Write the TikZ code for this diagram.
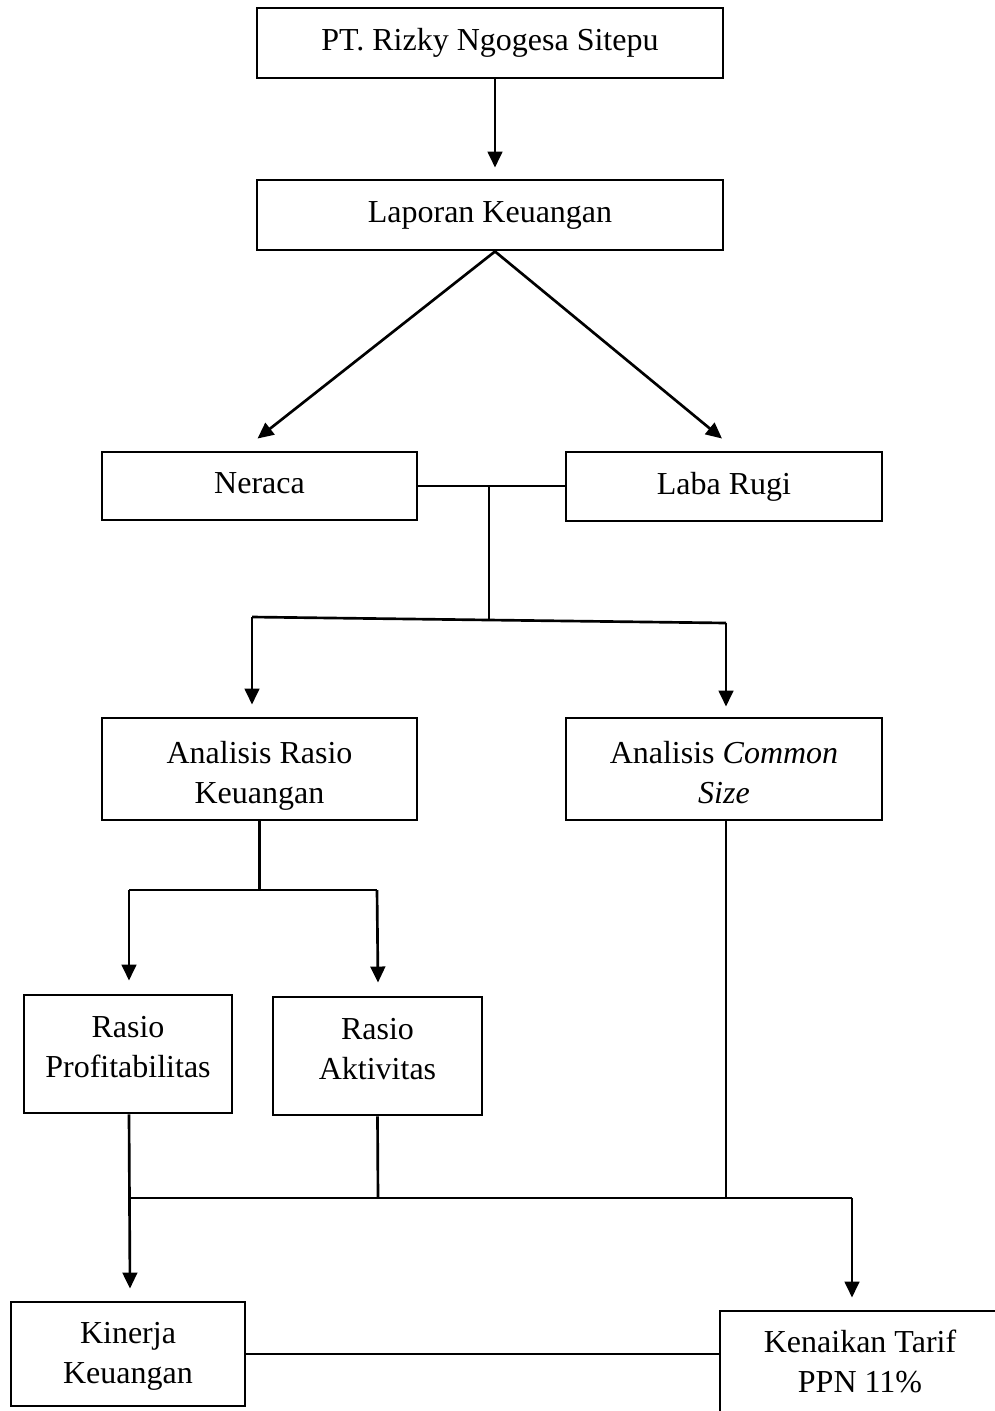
\documentclass[tikz,border=0pt]{standalone}
\usepackage{fontspec}
\setmainfont{Liberation Serif}
\usetikzlibrary{calc,arrows.meta}
\tikzset{
  box/.style={draw, line width=1.1pt, inner sep=0pt},
  txt/.style={anchor=base, inner sep=0pt, align=center,
    font=\fontsize{12pt}{14.8pt}\selectfont},
  conn/.style={line width=1pt},
  arr/.style={line width=1pt, -{Triangle[width=5.5pt,length=6pt]}}
}
\begin{document}
\begin{tikzpicture}[x=0.375pt, y=-0.375pt]
\clip (0,0) rectangle (995,1411);
\fill[white] (0,0) rectangle (995,1411);
% boxes
\node[box, minimum width=466*0.375pt, minimum height=70*0.375pt] (pt) at (490,43) {};
\node[box, minimum width=466*0.375pt, minimum height=70*0.375pt] (lap) at (490,215) {};
\node[box, minimum width=315*0.375pt, minimum height=68*0.375pt] (ner) at (259.5,486) {};
\node[box, minimum width=316*0.375pt, minimum height=69*0.375pt] (lr) at (724,486.5) {};
\node[box, minimum width=315*0.375pt, minimum height=102*0.375pt] (ark) at (259.5,769) {};
\node[box, minimum width=316*0.375pt, minimum height=102*0.375pt] (acs) at (724,769) {};
\node[box, minimum width=208*0.375pt, minimum height=118*0.375pt] (rp) at (128,1054) {};
\node[box, minimum width=209*0.375pt, minimum height=118*0.375pt] (ra) at (377.5,1056) {};
\node[box, minimum width=234*0.375pt, minimum height=104*0.375pt] (kk) at (128,1354) {};
\node[box, minimum width=280*0.375pt, minimum height=104*0.375pt] (kt) at (860,1363) {};
% texts (base anchor = baseline of the last line)
\node[txt] (pt-t) at (490,50) {PT. Rizky Ngogesa Sitepu};
\node[txt] (lap-t) at (490,222) {Laporan Keuangan};
\node[txt] (ner-t) at (259.5,493) {Neraca};
\node[txt] (lr-t) at (724,494) {Laba Rugi};
\node[txt] (ark-t) at (259.5,803) {Analisis Rasio\\Keuangan};
\node[txt] (acs-t) at (724,803) {Analisis \textit{Common}\\\textit{Size}};
\node[txt] (rp-t) at (128,1077) {Rasio\\Profitabilitas};
\node[txt] (ra-t) at (377.5,1079) {Rasio\\Aktivitas};
\node[txt] (kk-t) at (128,1383) {Kinerja\\Keuangan};
\node[txt] (kt-t) at (860,1392) {Kenaikan Tarif\\PPN 11\%};
% junction coordinates
\coordinate (j1) at (489,487);
\coordinate (j2) at (489,620);
\coordinate (hl) at (252,617);
\coordinate (hr) at (726,623);
\coordinate (j3) at (259.5,890);
\coordinate (h3l) at (129,890);
\coordinate (h3r) at (377,890);
\coordinate (b1) at (130,1198);
\coordinate (b2) at (378,1198);
\coordinate (b3) at (726,1198);
\coordinate (b4) at (852,1198);
% connectors
\draw[arr] ($(pt.south)+(5,0)$) -- ($(lap.north)+(5,-11)$);
\draw[arr] ($(lap.south)+(5,0)$) -- ($(ner.north)+(-2,-12)$);
\draw[arr] ($(lap.south)+(5,0)$) -- ($(lr.north)+(-2,-12)$);
\draw[conn] (ner.east) -- (ner.east -| lr.west);
\draw[conn] (j1) -- (j2);
\draw[conn] (hl) -- (hr);
\draw[arr] (hl) -- ($(ark.north)+(-7.5,-12)$);
\draw[arr] (hr) -- ($(acs.north)+(2,-10)$);
\draw[conn] (ark.south) -- (j3);
\draw[conn] (h3l) -- (h3r);
\draw[arr] (h3l) -- ($(rp.north)+(1,-13)$);
\draw[arr] (h3r) -- ($(ra.north)+(0.5,-13)$);
\draw[arr] ($(rp.south)+(1,0)$) -- ($(kk.north)+(2,-12)$);
\draw[conn] (ra.south) -- (b2);
\draw[conn] (b3 |- acs.south) -- (b3);
\draw[conn] (b1) -- (b4);
\draw[arr] (b4) -- ($(kt.north -| b4)+(0,-12)$);
\draw[conn] (kk.east) -- (kk.east -| kt.west);
\end{tikzpicture}
\end{document}
